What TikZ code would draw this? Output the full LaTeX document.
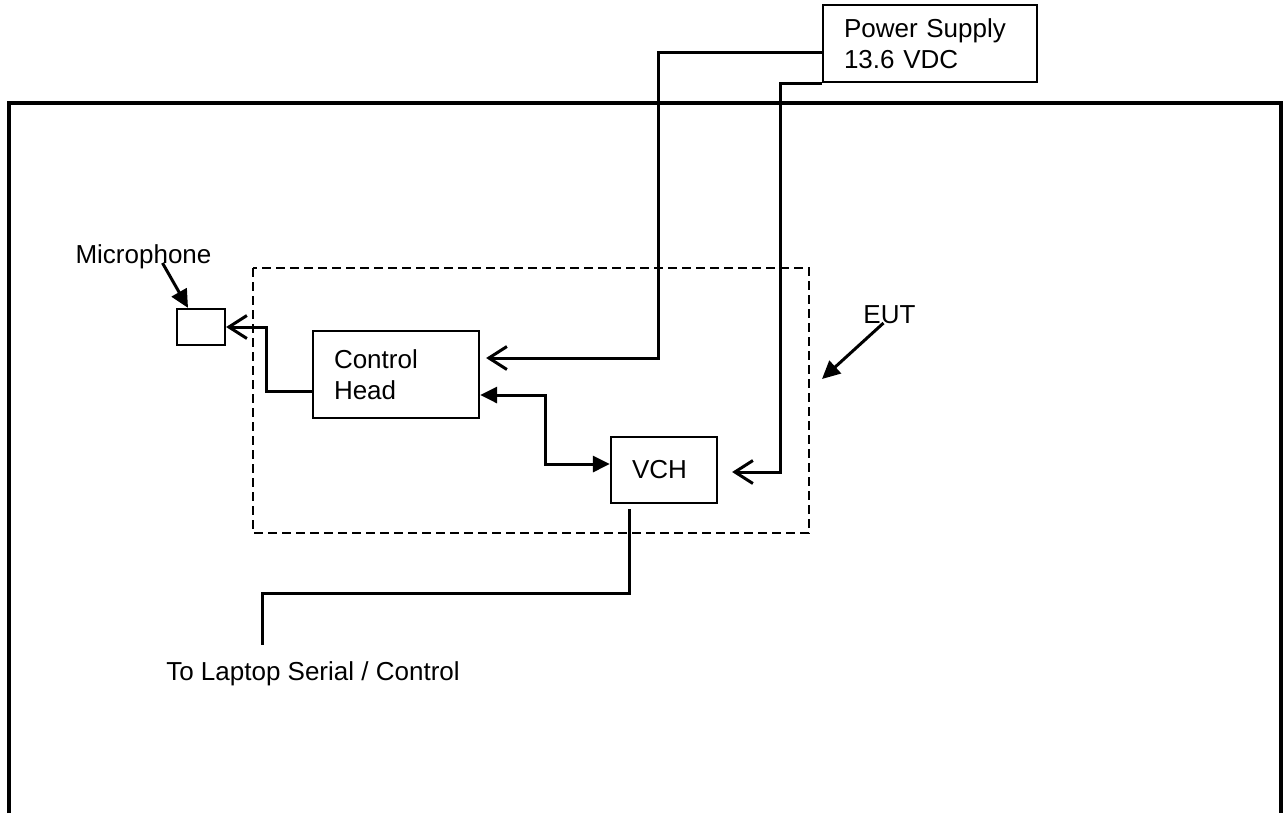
\documentclass[tikz,border=0pt]{standalone}
\usepackage{fontspec}
\setmainfont{Liberation Sans}
\usetikzlibrary{arrows.meta, calc}
\newcommand{\diagfont}{\fontsize{14.8}{17.6}\selectfont}
\tikzset{
  unit/.style    = {rectangle, draw, line width=0.45mm, align=left, inner xsep=4.2mm, inner ysep=0pt, font=\diagfont},
  micbox/.style  = {rectangle, draw, line width=0.45mm, minimum width=9.6mm, minimum height=7.2mm, inner sep=0pt},
  tag/.style     = {font=\diagfont, inner sep=0pt, anchor=base},
  wire/.style    = {line width=0.6mm},
  feed/.style    = {wire, -{Straight Barb[length=3.6mm, width=4.6mm]}},
  link/.style    = {wire, {Triangle[length=3.4mm, width=3.2mm]}-{Triangle[length=3.4mm, width=3.2mm]}},
  pointer/.style = {wire, -{Triangle[length=3.6mm, width=3.4mm]}},
  eutbox/.style  = {line width=0.45mm, dash pattern=on 1.8mm off 1mm},
  frame/.style   = {line width=0.85mm},
}

\begin{document}
\begin{tikzpicture}[x=0.2mm, y=-0.2mm]
    \useasboundingbox (0,0) rectangle (1284,813);

    % test area outline (open at the bottom)
    \draw[frame] (9,813) -- (9,103) -- (1281,103) -- (1281,813);

    % equipment under test
    \draw[eutbox] (253,268) rectangle (809,533);

    % units
    \node[unit, minimum width=42.8mm, minimum height=15.4mm, text width=34.4mm] (ps) at (930,43.5) {Power Supply\\13.6 VDC};
    \node[unit, minimum width=33.2mm, minimum height=17.4mm, text width=24.8mm] (ctrl) at (396,374.5) {Control\\Head};
    \node[unit, minimum width=21.2mm, minimum height=13.2mm, text width=12.8mm] (vch) at (664,470) {VCH};
    \node[micbox] (mic) at (201,327) {};

    % labels
    \node[tag] (micl) at (143.5,263) {Microphone};
    \node[tag] (eutl) at (889.5,323) {EUT};
    \node[tag] (lapl) at (313,680) {To Laptop Serial / Control};
    \coordinate (euttip) at (822,379);
    \coordinate (lapend) at (262,645);

    % power feeds
    \draw[feed] ($(ps.west)+(0,8.5)$) -| (658,358) -- ($(ctrl.east)+(6,-16.5)$);
    \draw[feed] (ps.south west) -| (780,472) -- ($(vch.east)+(14,2)$);

    % control head <-> VCH
    \draw[link] ($(ctrl.east)+(0,20.5)$) -| (545,464) -- ($(vch.west)+(0,-6)$);

    % control head -> microphone
    \draw[feed] ($(ctrl.west)+(0,17)$) -| (266,327) -- (mic.east);

    % VCH -> laptop
    \draw[wire] ($(vch.south)+(-35,5)$) |- (262,593) -- (lapend);

    % label pointers
    \draw[pointer] ($(micl.base)+(19,0)$) -- ($(mic.north)+(-13,0)$);
    \draw[pointer] ($(eutl.base)+(-6,0)$) -- (euttip);
\end{tikzpicture}
\end{document}
